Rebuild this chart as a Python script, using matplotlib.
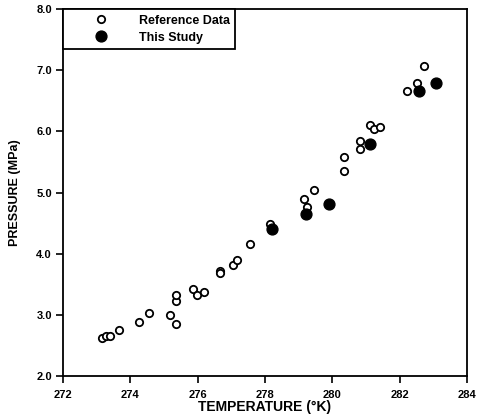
import matplotlib
matplotlib.use("Agg")
import matplotlib.pyplot as plt

ref_T = [273.16, 273.28, 273.40, 273.67, 274.27, 274.56, 275.17, 275.37, 275.37, 275.37,
         275.86, 275.97, 276.18, 276.66, 276.66, 277.05, 277.16, 277.54, 278.14, 279.25,
         279.15, 279.45, 280.34, 280.34, 280.83, 280.83, 281.13, 281.23, 281.43, 282.22,
         282.51, 282.71]
ref_P = [2.63, 2.66, 2.66, 2.75, 2.88, 3.03, 3.00, 2.86, 3.23, 3.33,
         3.42, 3.33, 3.37, 3.72, 3.69, 3.81, 3.90, 4.16, 4.49, 4.77,
         4.89, 5.04, 5.35, 5.58, 5.72, 5.85, 6.11, 6.04, 6.07, 6.67,
         6.80, 7.07]
study_T = [278.21, 279.21, 279.89, 281.11, 282.56, 283.08]
study_P = [4.41, 4.65, 4.82, 5.80, 6.67, 6.79]

xticks = [272, 274, 276, 278, 280, 282, 284]
yticks = [2.0, 3.0, 4.0, 5.0, 6.0, 7.0, 8.0]

plt.rcParams['font.family'] = ['Liberation Sans', 'DejaVu Sans']
fig = plt.figure(figsize=(4.79, 4.17), dpi=100)
ax = fig.add_axes([0.1315, 0.098, 0.975 - 0.1315, 0.978 - 0.098])

ax.plot(ref_T, ref_P, 'o', ms=5.3, mfc='white', mec='black', mew=1.3, ls='none',
        label='Reference Data')
ax.plot(study_T, study_P, 'o', ms=7.8, mfc='black', mec='black', ls='none',
        label='This Study')

ax.set_xlim(272, 284)
ax.set_ylim(2.0, 8.0)
ax.set_xticks(xticks)
ax.set_yticks(yticks)
ax.set_xticklabels([str(t) for t in xticks], fontweight='bold', fontsize=8)
ax.set_yticklabels([f"{t:.1f}" for t in yticks], fontweight='bold', fontsize=8)
ax.tick_params(axis='x', direction='out', length=5, width=1.2, top=False, pad=5)
ax.tick_params(axis='y', direction='out', length=5, width=1.2, right=False, pad=3)
for s in ax.spines.values():
    s.set_linewidth(1.3)

ax.set_xlabel('TEMPERATURE (°K)', fontweight='bold', fontsize=10, labelpad=0)
ax.set_ylabel('PRESSURE (MPa)', fontweight='bold', fontsize=9, labelpad=11)

leg = ax.legend(loc='upper left', borderaxespad=0, fancybox=False, framealpha=1,
                edgecolor='black', prop={'weight': 'bold', 'size': 9},
                handletextpad=0.4, borderpad=0.45, labelspacing=0.4, handlelength=5.2)
leg.get_frame().set_linewidth(1.3)

fig.savefig('out.png', dpi=100)
